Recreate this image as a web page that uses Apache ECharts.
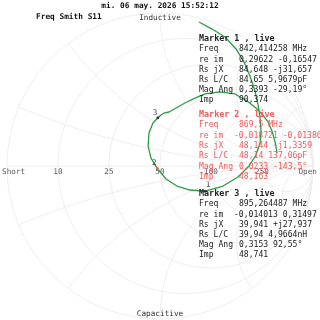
<!DOCTYPE html>
<html><head><meta charset="utf-8">
<script src="https://cdn.jsdelivr.net/npm/echarts@6/dist/echarts.min.js"></script>
<style>html,body{margin:0;padding:0;background:#fff}#c{width:320px;height:320px}</style>
</head><body><div id="c"></div>
<script>
// ---- data ----
const headerTitle = 'mi. 06 may. 2026 15:52:12';
const chartName = 'Freq Smith S11';
const z0 = 50;
const resistanceTicks = [10, 25, 50, 100, 250];   // ohms, circles + labels
const reactanceTicks = [10, 25, 50, 100, 250];    // ohms, arcs (±)
const tickLabels = ['10', '25', '50', '100', '250'];
const edgeLabels = ['Short', 'Open'];
const topLabel = 'Inductive';
const bottomLabel = 'Capacitive';

// S11 trace (reflection coefficient, real / imaginary)
const traceRe = [0.255,0.340,0.425,0.497,0.549,0.588,0.621,0.641,0.654,0.660,0.654,0.627,0.582,0.510,0.412,0.296,0.196,0.111,0.039,-0.019,-0.059,-0.078,-0.072,-0.046,-0.014,0.007,0.026,0.039,0.059,0.105,0.163,0.229,0.294,0.392,0.490,0.569,0.627,0.673,0.706,0.732,0.752,0.765];
const traceIm = [0.941,0.895,0.843,0.765,0.680,0.588,0.490,0.399,0.314,0.229,0.150,0.072,0.000,-0.072,-0.131,-0.165,-0.157,-0.131,-0.085,-0.014,0.052,0.131,0.216,0.281,0.315,0.333,0.346,0.337,0.353,0.379,0.412,0.444,0.471,0.484,0.471,0.425,0.379,0.333,0.288,0.229,0.157,0.085];

// markers
const markerNames = ['1', '2', '3'];
const markerRe = [0.29622, -0.018721, -0.014013];
const markerIm = [-0.16547, -0.013860, 0.31497];
const markerFreq = ['842,414258 MHz', '869,5 MHz', '895,264487 MHz'];
const markerReIm = ['0,29622 -0,16547', '-0,018721 -0,013860', '-0,014013 0,31497'];
const markerRsjX = ['84,648 -j31,657', '48,144 -j1,3359', '39,941 +j27,937'];
const markerRsLC = ['84,65 5,9679pF', '48,14 137,06pF', '39,94 4,9664nH'];
const markerMagAng = ['0,3393 -29,19°', '0,0233 -143,5°', '0,3153 92,55°'];
const markerImp = ['90,374', '48,163', '48,741'];
const rowLabels = ['Freq', 're im', 'Rs jX', 'Rs L/C', 'Mag Ang', 'Imp'];

// ---- styling / layout ----
const MONO = '"DejaVu Sans Mono", "Liberation Mono", monospace';
const GRID_COL = '#eeeeee';
const TRACE_COL = '#2a9d45';
const markerColors = ['#222', '#f05a5a', '#222'];
const blockTop = [39, 114.5, 194];
const blockStep = [10.2, 10.45, 10.2];

// Smith grid lines
function gammaOf(r, x) { // normalized z -> gamma
  const nr = r - 1, ni = x, dr = r + 1, di = x;
  const d = dr * dr + di * di;
  return [(nr * dr + ni * di) / d, (ni * dr - nr * di) / d];
}
const gridSeries = [];
function addLine(pts) {
  gridSeries.push({type: 'line', data: pts, symbol: 'none', silent: true, z: 1,
    lineStyle: {color: GRID_COL, width: 1}, animation: false});
}
// outer circle r=0 and resistance circles
[0].concat(resistanceTicks.map(v => v / z0)).forEach(r => {
  const pts = [];
  for (let i = -400; i <= 400; i++) {
    const x = i === 0 ? 0 : Math.sign(i) * Math.pow(10, Math.abs(i) / 80 - 3);
    pts.push(gammaOf(r, x));
  }
  pts.unshift([1, 0]); pts.push([1, 0]);
  pts.sort((a, b) => Math.atan2(a[1], a[0] - r / (1 + r)) - Math.atan2(b[1], b[0] - r / (1 + r)));
  addLine(pts);
});
// reactance arcs
reactanceTicks.forEach(v => {
  [1, -1].forEach(s => {
    const x = s * v / z0;
    const pts = [];
    for (let i = 0; i <= 300; i++) {
      const r = i === 0 ? 0 : Math.pow(10, i / 50 - 3);
      pts.push(gammaOf(r, x));
    }
    pts.push([1, 0]);
    addLine(pts);
  });
});
addLine([[-1, 0], [1, 0]]);

// ---- chart ----
const chart = echarts.init(document.getElementById('c'), null, {renderer: 'canvas'});
const graphics = [];
function txt(x, y, s, opt) {
  graphics.push({type: 'text', x: x, y: y, silent: true, z: 100,
    style: Object.assign({text: s, fill: '#222', font: '8.1px ' + MONO,
      textAlign: 'left', textVerticalAlign: 'middle', align: 'left', verticalAlign: 'middle'}, opt || {})});
}
txt(160, 6, headerTitle, {font: 'bold 7.8px ' + MONO, textAlign: 'center', align: 'center', fill: '#111'});
txt(36, 17, chartName, {font: 'bold 7.8px ' + MONO, fill: '#111'});
txt(160, 18, topLabel, {font: '7.7px ' + MONO, textAlign: 'center', align: 'center', fill: '#333'});
txt(160, 314, bottomLabel, {font: '7.7px ' + MONO, textAlign: 'center', align: 'center', fill: '#333'});

for (let m = 0; m < 3; m++) {
  const col = markerColors[m];
  const y0 = blockTop[m], st = blockStep[m];
  txt(199, y0, 'Marker ' + markerNames[m] + ' , live', {font: 'bold 8.4px ' + MONO, fill: col});
  const vals = [markerFreq[m], markerReIm[m], markerRsjX[m], markerRsLC[m], markerMagAng[m], markerImp[m]];
  vals.forEach((v, i) => {
    const y = y0 + st * (i + 1);
    txt(199, y, rowLabels[i], {fill: col});
    txt(v.charAt(0) === '-' ? 234 : 239, y, v, {fill: col});
  });
}

const tickData = resistanceTicks.map((v, i) => ({value: [(v - z0) / (v + z0), 0], name: tickLabels[i]}));
const edgeData = [{value: [-1, 0], name: edgeLabels[0], label: {align: 'left', offset: [-5, 0]}},
                  {value: [1, 0], name: edgeLabels[1], label: {align: 'right', offset: [4, 0]}}];

chart.setOption({
  animation: false,
  backgroundColor: '#fff',
  grid: {left: 7, top: 13, width: 306, height: 306},
  xAxis: {type: 'value', min: -1, max: 1, show: false},
  yAxis: {type: 'value', min: -1, max: 1, show: false},
  graphic: graphics,
  series: gridSeries.concat([
    {type: 'scatter', data: tickData.concat(edgeData), symbolSize: 0, silent: true, z: 5,
     label: {show: true, position: 'bottom', distance: 2.5, formatter: p => p.name,
             color: '#333', fontFamily: MONO, fontSize: 7.7}},
    {type: 'line', data: traceRe.map((v, i) => [v, traceIm[i]]), symbol: 'none', z: 10,
     lineStyle: {color: TRACE_COL, width: 1.3}},
    {type: 'scatter', z: 20, symbolSize: 3,
     data: markerNames.map((n, i) => ({value: [markerRe[i], markerIm[i]], name: n,
       itemStyle: {color: markerColors[i]},
       label: {position: i === 0 ? 'right' : 'left', offset: i === 0 ? [-2, -6] : [2, -5]}})),
     label: {show: true, formatter: p => p.name, color: '#222', fontFamily: MONO, fontSize: 7.7, distance: 1}}
  ])
});
</script></body></html>
